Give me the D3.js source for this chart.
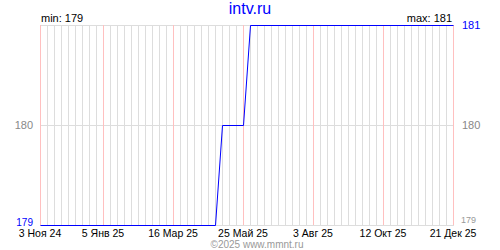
<!DOCTYPE html>
<html>
<head>
<meta charset="utf-8">
<script src="https://cdn.jsdelivr.net/npm/d3@7"></script>
<style>
  body { margin: 0; background: #fff; }
  svg text { font-family: "Liberation Sans", Arial, sans-serif; }
</style>
</head>
<body>
<svg width="500" height="250"></svg>
<script>
const dates = ["2024-11-03", "2025-04-27", "2025-05-04", "2025-05-25", "2025-06-01", "2025-12-21"];
const values = [179, 179, 180, 180, 181, 181];
const tickDates = ["2024-11-03", "2025-01-05", "2025-03-16", "2025-05-25", "2025-08-03", "2025-10-12", "2025-12-21"];
const tickLabels = ["3 Ноя 24", "5 Янв 25", "16 Мар 25", "25 Май 25", "3 Авг 25", "12 Окт 25", "21 Дек 25"];
const yTicks = [179, 180, 181];

const parse = d3.utcParse("%Y-%m-%d");
const points = dates.map((d, i) => ({ date: parse(d), value: values[i] }));

const svg = d3.select("svg");
const x = d3.scaleUtc()
  .domain([parse("2024-11-03"), parse("2025-12-21")])
  .range([40, 453]);
const y = d3.scaleLinear().domain([179, 181]).range([225, 25]);

// weekly grid lines
const weeks = d3.utcWeek.every(1).range(parse("2024-11-03"), d3.utcDay.offset(parse("2025-12-21"), 1));
svg.append("g")
  .selectAll("line")
  .data(weeks)
  .join("line")
  .attr("x1", d => Math.round(x(d)) + 0.5)
  .attr("x2", d => Math.round(x(d)) + 0.5)
  .attr("y1", 25)
  .attr("y2", 225)
  .attr("stroke", "#dddddd");

// horizontal grid
svg.append("g")
  .selectAll("line")
  .data(yTicks)
  .join("line")
  .attr("x1", 40)
  .attr("x2", 454)
  .attr("y1", d => Math.round(y(d)) + 0.5)
  .attr("y2", d => Math.round(y(d)) + 0.5)
  .attr("stroke", "#dddddd");

// pink label lines
svg.append("g")
  .selectAll("line")
  .data(tickDates.map(parse))
  .join("line")
  .attr("x1", d => Math.round(x(d)) + 0.5)
  .attr("x2", d => Math.round(x(d)) + 0.5)
  .attr("y1", 25)
  .attr("y2", 225)
  .attr("stroke", "#ffc0c0");

// data line
const line = d3.line()
  .x(d => Math.round(x(d.date)) + 0.5)
  .y(d => Math.round(y(d.value)) + 0.5);
svg.append("path")
  .datum(points)
  .attr("d", line)
  .attr("fill", "none")
  .attr("stroke", "#0000ff")
  .attr("stroke-width", 1);

// date labels
svg.append("g")
  .selectAll("text")
  .data(tickDates)
  .join("text")
  .attr("x", d => x(parse(d)))
  .attr("y", 237)
  .attr("text-anchor", "middle")
  .attr("font-size", 10.5)
  .attr("fill", "#000")
  .text((d, i) => tickLabels[i]);

// y labels
svg.append("text")
  .attr("x", 33).attr("y", 226)
  .attr("text-anchor", "end").attr("font-size", 10).attr("fill", "#0000ff")
  .text(yTicks[0]);
svg.append("text")
  .attr("x", 33).attr("y", y(180) + 4)
  .attr("text-anchor", "end").attr("font-size", 11).attr("fill", "#888")
  .text(yTicks[1]);
svg.append("text")
  .attr("x", 462).attr("y", y(180) + 4)
  .attr("font-size", 11).attr("fill", "#888")
  .text(yTicks[1]);
svg.append("text")
  .attr("x", 462).attr("y", y(181) + 4)
  .attr("font-size", 11).attr("fill", "#0000ff")
  .text(yTicks[2]);
svg.append("text")
  .attr("x", 461).attr("y", 223)
  .attr("font-size", 9).attr("fill", "#999")
  .text(yTicks[0]);

// min / max
svg.append("text")
  .attr("x", 41).attr("y", 22)
  .attr("font-size", 11).attr("fill", "#000")
  .text("min: " + d3.min(values));
svg.append("text")
  .attr("x", 452).attr("y", 22)
  .attr("text-anchor", "end").attr("font-size", 11).attr("fill", "#000")
  .text("max: " + d3.max(values));

// title
svg.append("text")
  .attr("x", 250).attr("y", 14)
  .attr("text-anchor", "middle").attr("font-size", 16).attr("fill", "#0000ff")
  .text("intv.ru");

// copyright
svg.append("text")
  .attr("x", 257).attr("y", 247.5)
  .attr("text-anchor", "middle").attr("font-size", 10).attr("fill", "#999")
  .text("©2025 www.mmnt.ru");
</script>
</body>
</html>
